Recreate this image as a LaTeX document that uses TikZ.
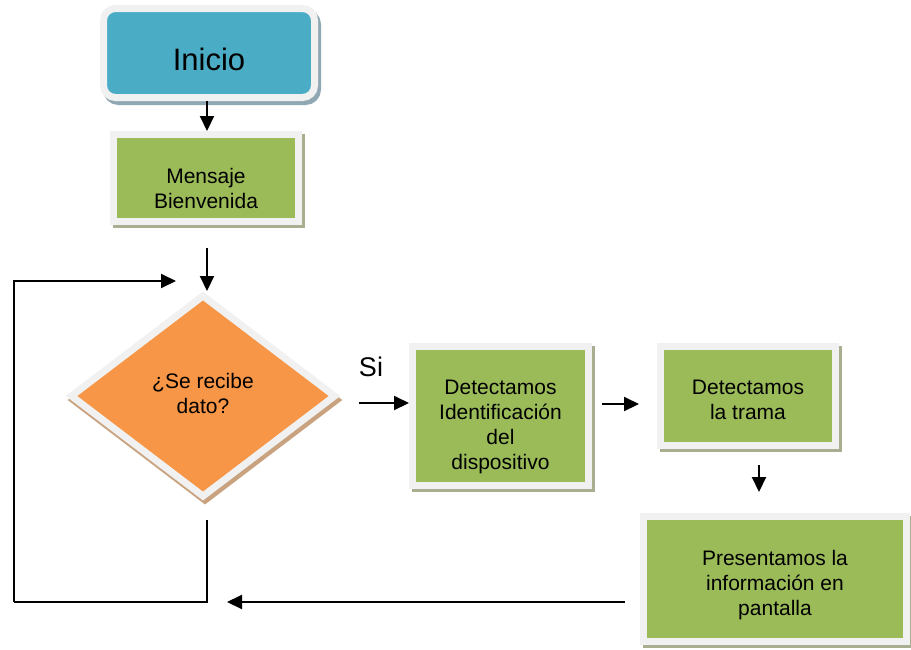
\documentclass[tikz,border=0pt]{standalone}
\usepackage{fontspec}
\setmainfont{Liberation Sans}
\usetikzlibrary{arrows.meta,shapes.geometric,calc}

\definecolor{framegray}{HTML}{F1F1F1}
\definecolor{startblue}{HTML}{4BACC6}
\definecolor{startshadow}{HTML}{8FA8B3}
\definecolor{stepgreen}{HTML}{9BBB59}
\definecolor{greenshadow}{HTML}{A7AF90}
\definecolor{askorange}{HTML}{F79646}
\definecolor{orangeshadow}{HTML}{C9A37F}

\tikzset{
  boxtext/.style={font=\fontsize{21}{25}\selectfont, align=center, text=black},
  framed/.style={draw=framegray, line width=7pt, inner sep=0pt},
  stepbox/.style={framed, rectangle, fill=stepgreen,
    preaction={draw=greenshadow, fill=greenshadow, line width=7pt,
      transform canvas={shift={(3pt,-3pt)}}}, boxtext},
  startbox/.style={framed, rectangle, rounded corners=12pt, fill=startblue,
    font=\fontsize{31}{36}\selectfont, text=black,
    preaction={draw=startshadow, fill=startshadow, line width=7pt,
      transform canvas={shift={(3pt,-4pt)}}}},
  askbox/.style={framed, diamond, fill=askorange, miter limit=4,
    preaction={draw=orangeshadow, fill=orangeshadow, line width=7pt,
      transform canvas={shift={(2pt,-4pt)}}}, boxtext},
  arr/.style={line width=2pt, -{Triangle[length=15pt,width=14pt]}},
  plain/.style={line width=2pt},
}

\begin{document}
\begin{tikzpicture}[x=1pt,y=-1pt]
\useasboundingbox (0,0) rectangle (911,649);

% process blocks (text height sets where the text block sits in each box)
\node[startbox, minimum width=211pt, minimum height=89pt, text height=36pt] (inicio) at (209,53) {Inicio};
\node[stepbox, minimum width=185pt, minimum height=87pt, text height=61pt] (mensaje) at (206,178) {Mensaje\\Bienvenida};
\node[askbox, minimum width=266pt, minimum height=203pt, text height=36pt] (dec) at (203,396) {¿Se recibe\\dato?};
\node[stepbox, minimum width=176pt, minimum height=139pt, text height=111pt] (ident) at (500.5,416) {Detectamos\\Identificación\\del\\dispositivo};
\node[stepbox, minimum width=175pt, minimum height=99pt, text height=47pt] (trama) at (748,396) {Detectamos\\la trama};
\node[stepbox, minimum width=263pt, minimum height=125pt, text height=77pt] (pant) at (775,579) {Presentamos la\\información en\\pantalla};

\node[font=\fontsize{27}{30}\selectfont] (si) at (371,367) {Si};

% loop-back points
\coordinate (loopdown) at (207,602);
\coordinate (loopleft) at (14,602);
\coordinate (looptop) at (14,281);
\coordinate (loopin) at (176,281);
\coordinate (backend) at (227,602);

% connectors
\draw[arr] (inicio.south -| 207,0) -- (mensaje.north -| 207,0);
\draw[arr, shorten <=23pt] (mensaje.south -| 207,0) -- (dec.north -| 207,0);
\draw[arr, shorten <=19pt] ([yshift=-7pt]dec.east) -- ([yshift=-7pt]dec.east -| ident.west);
\draw[arr, shorten <=10pt, shorten >=18pt] (ident.east |- 0,404) -- (trama.west |- 0,404);
\draw[arr, shorten <=16pt, shorten >=21pt] (trama.south -| 759,0) -- (pant.north -| 759,0);
\draw[arr, shorten <=15pt] (pant.west |- backend) -- (backend);
\draw[plain, shorten <=19pt] (dec.south -| loopdown) -- (loopdown) -- (loopleft);
\draw[arr] (loopleft) -- (looptop) -- (loopin);
\end{tikzpicture}
\end{document}
